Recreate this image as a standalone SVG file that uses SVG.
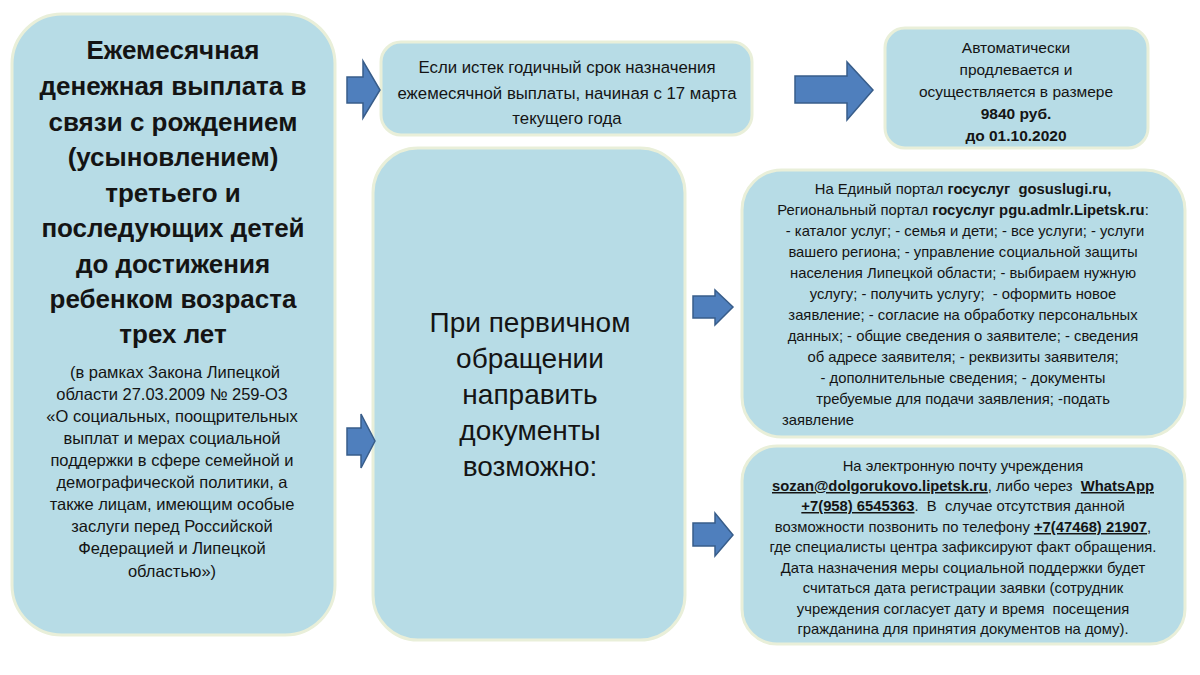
<svg xmlns="http://www.w3.org/2000/svg" width="1200" height="675" viewBox="0 0 1200 675">
<style>
.box{fill:#b7dce6;stroke:#e9efd9;stroke-width:3}
.arr{fill:#4f7fbd;stroke:#385d8a;stroke-width:1.5;stroke-linejoin:miter}
text{font-family:"Liberation Sans","Noto Sans",sans-serif;fill:#141414;text-anchor:middle;white-space:pre}
.t1{font-size:26px;font-weight:bold}
.t2{font-size:16.5px}
.t3{font-size:16.8px}
.t4{font-size:15.5px}
.t5{font-size:28px}
.t6{font-size:14.8px}
.b{font-weight:bold}
.u{font-weight:bold;text-decoration:underline}
</style>
<rect width="1200" height="675" fill="#ffffff"/>
<g id="node-left">
<rect class="box" x="12" y="14" width="323" height="621" rx="50"/>
<text class="t1" x="173" y="59">Ежемесячная</text>
<text class="t1" x="173" y="95">денежная выплата в</text>
<text class="t1" x="173" y="131">связи с рождением</text>
<text class="t1" x="173" y="166">(усыновлением)</text>
<text class="t1" x="173" y="202">третьего и</text>
<text class="t1" x="173" y="237">последующих детей</text>
<text class="t1" x="173" y="273">до достижения</text>
<text class="t1" x="173" y="308">ребенком возраста</text>
<text class="t1" x="173" y="343">трех лет</text>
<text class="t2" x="175" y="378">(в рамках Закона Липецкой</text>
<text class="t2" x="172" y="400">области 27.03.2009 № 259-ОЗ</text>
<text class="t2" x="172" y="422">«О социальных, поощрительных</text>
<text class="t2" x="172" y="444">выплат и мерах социальной</text>
<text class="t2" x="172" y="466">поддержки в сфере семейной и</text>
<text class="t2" x="172" y="488">демографической политики, а</text>
<text class="t2" x="172" y="510">также лицам, имеющим особые</text>
<text class="t2" x="172" y="532">заслуги перед Российской</text>
<text class="t2" x="172" y="554">Федерацией и Липецкой</text>
<text class="t2" x="172" y="577">областью»)</text>
</g>
<g id="node-top-mid">
<rect class="box" x="381" y="42" width="371" height="93" rx="20"/>
<text class="t3" x="567" y="73">Если истек годичный срок назначения</text>
<text class="t3" x="567" y="99">ежемесячной выплаты, начиная с 17 марта</text>
<text class="t3" x="567" y="124">текущего года</text>
</g>
<g id="node-top-right">
<rect class="box" x="885" y="28" width="263" height="120" rx="20"/>
<text class="t4" x="1016" y="53">Автоматически</text>
<text class="t4" x="1016" y="75">продлевается и</text>
<text class="t4" x="1016" y="97">осуществляется в размере</text>
<text class="t4 b" x="1016" y="119">9840 руб.</text>
<text class="t4 b" x="1016" y="141">до 01.10.2020</text>
</g>
<g id="node-middle">
<rect class="box" x="373" y="148" width="312" height="492" rx="45"/>
<text class="t5" x="530" y="332">При первичном</text>
<text class="t5" x="530" y="368">обращении</text>
<text class="t5" x="530" y="404">направить</text>
<text class="t5" x="530" y="440">документы</text>
<text class="t5" x="530" y="476">возможно:</text>
</g>
<g id="node-portal">
<rect class="box" x="742" y="170" width="443" height="267" rx="40"/>
<text class="t6" x="963" y="194">На Единый портал <tspan class="b">госуслуг  gosuslugi.ru,</tspan></text>
<text class="t6" x="963" y="215">Региональный портал <tspan class="b">госуслуг pgu.admlr.Lipetsk.ru</tspan>:</text>
<text class="t6" x="963" y="236"> - каталог услуг; - семья и дети; - все услуги; - услуги</text>
<text class="t6" x="963" y="257">вашего региона; - управление социальной защиты</text>
<text class="t6" x="963" y="278">населения Липецкой области; - выбираем нужную</text>
<text class="t6" x="963" y="299">услугу; - получить услугу;  - оформить новое</text>
<text class="t6" x="963" y="320">заявление; - согласие на обработку персональных</text>
<text class="t6" x="963" y="341">данных; - общие сведения о заявителе; - сведения</text>
<text class="t6" x="963" y="362">об адресе заявителя; - реквизиты заявителя;</text>
<text class="t6" x="963" y="383">- дополнительные сведения; - документы</text>
<text class="t6" x="963" y="404">требуемые для подачи заявления; -подать</text>
<text class="t6" x="782" y="425" style="text-anchor:start">заявление</text>
</g>
<g id="node-email">
<rect class="box" x="742" y="446" width="443" height="198" rx="35"/>
<text class="t6" x="963" y="471">На электронную почту учреждения</text>
<text class="t6" x="963" y="491"><tspan class="u">sozan@dolgorukovo.lipetsk.ru</tspan>, либо через  <tspan class="u">WhatsApp</tspan></text>
<text class="t6" x="963" y="511"><tspan class="u">+7(958) 6545363</tspan>.  В  случае отсутствия данной</text>
<text class="t6" x="963" y="532">возможности позвонить по телефону <tspan class="u">+7(47468) 21907</tspan>,</text>
<text class="t6" x="963" y="552">где специалисты центра зафиксируют факт обращения.</text>
<text class="t6" x="963" y="573">Дата назначения меры социальной поддержки будет</text>
<text class="t6" x="963" y="593">считаться дата регистрации заявки (сотрудник</text>
<text class="t6" x="963" y="614">учреждения согласует дату и время  посещения</text>
<text class="t6" x="963" y="634">гражданина для принятия документов на дому).</text>
</g>
<g id="connectors">
<polygon class="arr" points="347,77 363,77 363,61 380,90 363,118 363,103 347,103"/>
<polygon class="arr" points="347,428 361,428 361,414 375,441 361,468 361,455 347,455"/>
<polygon class="arr" points="795,76 847,76 847,62 873,90 847,120 847,103 795,103"/>
<polygon class="arr" points="693,296 715,296 715,290 733,307 715,325 715,318 693,318"/>
<polygon class="arr" points="693,523 715,523 715,513 733,535 715,556 715,546 693,546"/>
</g>
</svg>
